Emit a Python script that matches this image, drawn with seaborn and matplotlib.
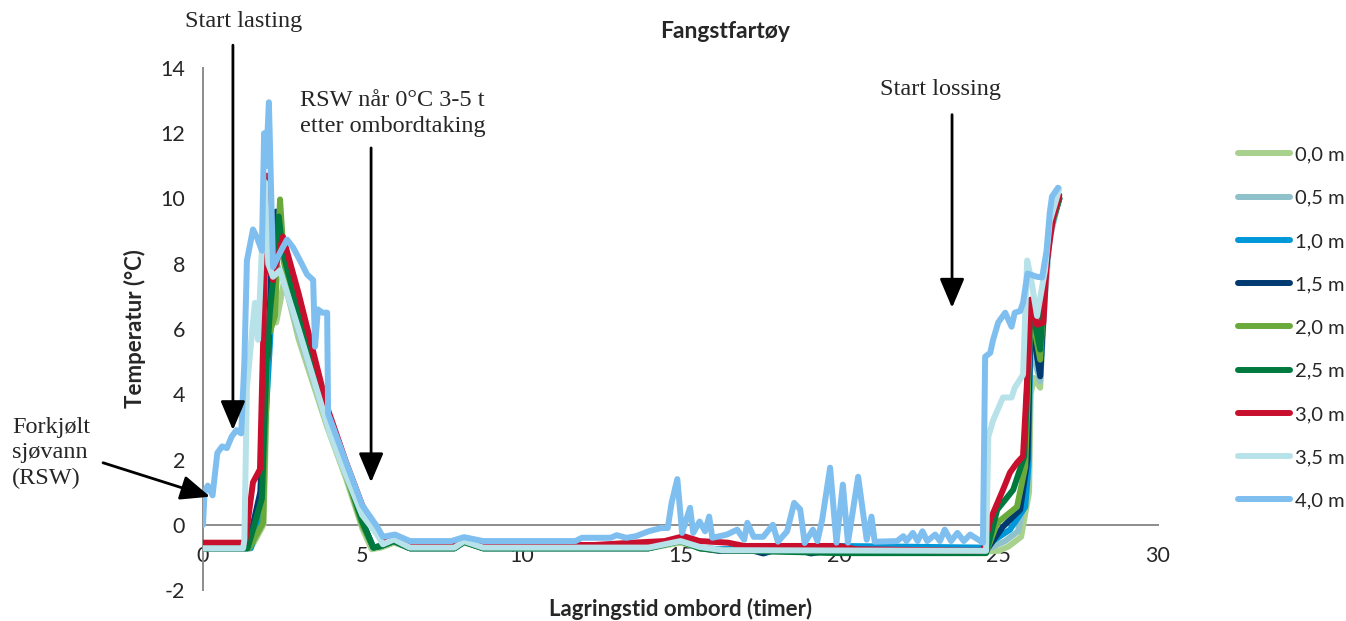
import pandas as pd
import matplotlib
matplotlib.use('Agg')
import matplotlib.pyplot as plt
import seaborn as sns

# --- data (timer, temperatur) ---
dybder = ['0,0 m', '0,5 m', '1,0 m', '1,5 m', '2,0 m', '2,5 m', '3,0 m', '3,5 m', '4,0 m']
farger = ['#A9D18E', '#8FC1CB', '#0098D8', '#003A70', '#6AAA3A', '#00793F', '#C8102E', '#B8E2E9', '#7FBFEF']

t_00 = [0, 1.5, 1.9, 2.05, 2.2, 2.3, 2.42, 2.55, 3.0, 3.9, 4.5, 5.0, 5.3, 5.6, 6.0, 6.5, 7.9, 8.2, 8.8, 14.0, 15.0, 15.6, 16.2, 24.5, 25.0, 25.3, 25.7, 25.95, 26.0, 26.1, 26.3, 26.45, 26.6, 26.9]
y_00 = [-0.72, -0.72, 0.0, 5.5, 6.5, 6.2, 6.8, 7.5, 5.7, 3.0, 1.4, -0.1, -0.75, -0.7, -0.55, -0.72, -0.72, -0.55, -0.72, -0.72, -0.55, -0.7, -0.78, -0.82, -0.8, -0.67, -0.37, 1.0, 4.0, 4.5, 4.2, 7.5, 9.0, 10.0]

t_05 = [0, 1.45, 1.8, 1.95, 2.1, 2.3, 2.5, 3.0, 3.9, 4.5, 5.0, 5.35, 5.6, 6.0, 6.5, 7.9, 8.2, 8.8, 14.0, 15.0, 15.6, 16.2, 24.5, 25.2, 25.6, 25.9, 26.0, 26.3, 26.45, 26.6, 26.9]
y_05 = [-0.72, -0.72, 0.5, 4.0, 6.5, 8.0, 7.6, 5.9, 3.1, 1.5, 0.0, -0.7, -0.65, -0.5, -0.72, -0.72, -0.52, -0.72, -0.72, -0.5, -0.7, -0.78, -0.82, -0.5, -0.2, 1.2, 5.5, 4.4, 7.0, 8.8, 10.0]

t_10 = [0, 1.5, 1.8, 1.95, 2.0, 2.1, 2.25, 2.35, 2.5, 3.0, 3.9, 4.5, 5.0, 5.35, 5.6, 6.0, 6.5, 7.9, 8.2, 8.8, 14.0, 15.0, 15.6, 16.2, 20.0, 24.5, 25.35, 25.83, 25.93, 26.0, 26.3, 26.45, 26.6, 26.9]
y_10 = [-0.72, -0.72, 0.2, 3.0, 3.8, 5.5, 8.5, 9.0, 8.3, 6.2, 3.4, 1.6, 0.1, -0.7, -0.65, -0.5, -0.72, -0.72, -0.52, -0.72, -0.72, -0.45, -0.7, -0.75, -0.65, -0.7, -0.15, 0.55, 1.8, 6.5, 4.6, 7.5, 9.0, 10.0]

t_15 = [0, 1.4, 1.8, 1.95, 2.05, 2.15, 2.3, 2.45, 3.0, 3.9, 4.5, 5.0, 5.35, 5.6, 6.0, 6.5, 7.9, 8.2, 8.8, 14.0, 15.0, 15.6, 16.2, 17.3, 17.6, 17.9, 18.8, 19.1, 19.6, 24.6, 25.13, 25.67, 25.9, 26.0, 26.3, 26.45, 26.6, 26.9]
y_15 = [-0.72, -0.72, 1.0, 4.5, 5.3, 8.0, 9.6, 8.6, 6.3, 3.4, 1.6, 0.1, -0.7, -0.65, -0.5, -0.72, -0.72, -0.52, -0.72, -0.72, -0.45, -0.72, -0.8, -0.8, -0.88, -0.8, -0.8, -0.88, -0.8, -0.8, -0.06, 0.46, 2.0, 6.4, 4.55, 7.5, 9.0, 10.0]

t_20 = [0, 1.45, 1.89, 2.04, 2.1, 2.26, 2.42, 2.55, 3.0, 3.9, 4.5, 5.0, 5.35, 5.6, 6.0, 6.5, 7.9, 8.2, 8.8, 14.0, 15.0, 15.6, 16.2, 20.0, 24.6, 24.95, 25.57, 25.83, 26.0, 26.3, 26.45, 26.6, 26.9]
y_20 = [-0.72, -0.72, 0.06, 6.0, 5.9, 6.4, 9.97, 8.0, 6.2, 3.3, 1.5, 0.0, -0.7, -0.65, -0.5, -0.72, -0.72, -0.52, -0.72, -0.72, -0.5, -0.72, -0.78, -0.85, -0.85, 0.06, 0.55, 1.78, 6.6, 5.06, 7.8, 9.0, 10.0]

t_25 = [0, 1.4, 1.85, 2.0, 2.1, 2.2, 2.38, 2.5, 3.0, 3.9, 4.5, 5.0, 5.35, 5.6, 6.0, 6.5, 7.9, 8.2, 8.8, 14.0, 15.0, 15.6, 16.2, 20.0, 24.6, 24.95, 25.45, 25.8, 26.0, 26.3, 26.45, 26.6, 26.9]
y_25 = [-0.72, -0.72, 0.8, 5.0, 6.5, 7.5, 9.45, 8.4, 6.5, 3.4, 1.6, 0.1, -0.7, -0.65, -0.5, -0.72, -0.72, -0.52, -0.72, -0.72, -0.5, -0.72, -0.78, -0.87, -0.87, 0.46, 1.07, 2.1, 6.8, 5.37, 7.8, 9.1, 10.0]

t_30 = [0, 1.32, 1.57, 1.79, 1.95, 2.0, 2.1, 2.2, 2.3, 2.51, 3.0, 3.9, 4.5, 5.0, 5.47, 5.65, 6.0, 6.5, 7.9, 8.2, 8.8, 12.3, 13.5, 14.5, 15.1, 15.6, 16.5, 17.0, 20.0, 20.5, 24.5, 24.73, 25.13, 25.35, 25.57, 25.76, 25.89, 26.0, 26.2, 26.4, 26.5, 26.7, 26.9]
y_30 = [-0.55, -0.55, 1.3, 1.7, 8.0, 10.7, 7.8, 7.5, 8.0, 8.83, 7.1, 3.6, 1.9, 0.6, -0.25, -0.55, -0.45, -0.62, -0.62, -0.45, -0.62, -0.62, -0.55, -0.5, -0.35, -0.5, -0.55, -0.65, -0.65, -0.75, -0.8, 0.15, 1.07, 1.6, 1.9, 2.1, 4.45, 6.9, 6.13, 6.2, 8.0, 9.4, 10.1]

t_35 = [0, 1.26, 1.3, 1.38, 1.54, 1.63, 1.73, 1.85, 1.95, 2.05, 2.2, 2.42, 3.0, 3.99, 4.5, 5.0, 5.47, 5.65, 6.0, 6.5, 7.9, 8.2, 8.8, 14.0, 15.0, 15.6, 16.3, 24.6, 24.67, 24.82, 25.13, 25.4, 25.5, 25.76, 25.89, 26.0, 26.2, 26.45, 26.6, 26.9]
y_35 = [-0.72, -0.72, -0.46, 4.2, 5.9, 6.8, 5.67, 8.5, 10.5, 8.0, 7.6, 7.8, 6.0, 2.8, 1.5, 0.3, -0.3, -0.6, -0.45, -0.7, -0.7, -0.5, -0.7, -0.7, -0.5, -0.68, -0.78, -0.8, 2.7, 3.2, 3.9, 3.9, 4.2, 4.6, 8.1, 7.6, 6.4, 7.8, 9.3, 10.3]

t_40 = [0, 0.05, 0.15, 0.3, 0.45, 0.6, 0.75, 0.9, 1.05, 1.2, 1.3, 1.38, 1.57, 1.7, 1.85, 1.92, 1.98, 2.07, 2.2, 2.3, 2.45, 2.64, 2.83, 3.1, 3.27, 3.46, 3.52, 3.61, 3.75, 3.9, 3.93, 4.5, 5.0, 5.47, 5.65, 6.03, 6.5, 7.8, 8.2, 8.8, 11.7, 11.9, 12.8, 13.0, 13.3, 13.6, 14.0, 14.4, 14.6, 14.72, 14.9, 15.05, 15.3, 15.4, 15.6, 15.77, 15.9, 16.0, 16.46, 16.78, 17.0, 17.1, 17.3, 17.6, 17.9, 18.06, 18.35, 18.57, 18.76, 18.9, 19.16, 19.3, 19.45, 19.7, 19.9, 20.1, 20.26, 20.58, 20.85, 21.0, 21.1, 21.8, 22.0, 22.1, 22.3, 22.45, 22.6, 22.75, 23.0, 23.15, 23.3, 23.5, 23.7, 23.9, 24.1, 24.5, 24.57, 24.73, 24.82, 24.98, 25.2, 25.4, 25.5, 25.67, 25.76, 25.9, 26.2, 26.36, 26.5, 26.6, 26.67, 26.86]
y_40 = [0.0, 1.0, 1.2, 0.9, 2.2, 2.4, 2.35, 2.7, 2.9, 2.8, 5.0, 8.1, 9.05, 8.8, 8.4, 12.0, 11.0, 12.95, 7.9, 8.1, 8.4, 8.74, 8.5, 8.0, 7.67, 7.5, 5.46, 6.6, 6.5, 6.5, 3.4, 1.9, 0.6, -0.06, -0.37, -0.3, -0.5, -0.5, -0.38, -0.5, -0.5, -0.4, -0.4, -0.32, -0.4, -0.35, -0.2, -0.1, -0.1, 0.67, 1.4, -0.25, 0.52, -0.25, 0.1, -0.2, 0.25, -0.4, -0.3, -0.15, -0.46, 0.06, -0.37, -0.37, 0.0, -0.52, -0.2, 0.67, 0.47, -0.56, -0.15, -0.5, 0.15, 1.75, -0.55, 1.23, -0.55, 1.47, -0.46, 0.25, -0.52, -0.5, -0.35, -0.5, -0.25, -0.5, -0.2, -0.5, -0.3, -0.5, -0.15, -0.5, -0.25, -0.5, -0.3, -0.55, 5.15, 5.27, 5.67, 6.2, 6.5, 6.07, 6.5, 6.55, 6.8, 7.7, 7.6, 7.58, 8.4, 9.57, 10.06, 10.33]

serier = [(t_00, y_00), (t_05, y_05), (t_10, y_10), (t_15, y_15), (t_20, y_20),
          (t_25, y_25), (t_30, y_30), (t_35, y_35), (t_40, y_40)]

rows = []
for dybde, (tt, yy) in zip(dybder, serier):
    for a, b in zip(tt, yy):
        rows.append({'timer': a, 'temp': b, 'dybde': dybde})
df = pd.DataFrame(rows)

sns.set_style('white')
plt.rcParams['font.family'] = ['Lato', 'DejaVu Sans']
plt.rcParams['axes.unicode_minus'] = False

fig = plt.figure(figsize=(13.46, 6.21), dpi=100)
ax = fig.add_axes([203 / 1346, 1 - 590 / 621, 955 / 1346, 522 / 621])

sns.lineplot(data=df, x='timer', y='temp', hue='dybde', hue_order=dybder,
             palette=dict(zip(dybder, farger)), sort=False, estimator=None,
             linewidth=4.3, ax=ax, solid_joinstyle='round', solid_capstyle='round')

ax.set_xlim(0, 30)
ax.set_ylim(-2, 14)
ax.set_xticks(range(0, 31, 5))
ax.set_yticks(range(-2, 15, 2))

for side in ['top', 'right']:
    ax.spines[side].set_visible(False)
ax.spines['bottom'].set_position(('data', 0))
for side in ['left', 'bottom']:
    ax.spines[side].set_color('#8C8C8C')
    ax.spines[side].set_linewidth(1.4)
    ax.spines[side].set_zorder(1)
ax.tick_params(axis='y', direction='out', length=5, width=1.2, color='#8C8C8C', labelsize=15.5, pad=8)
ax.tick_params(axis='x', direction='out', length=4, width=1.2, color='#8C8C8C', labelsize=15.5, pad=11)
ax.grid(False)

ax.set_ylabel('Temperatur (°C)', fontsize=16, fontweight='bold', labelpad=10)
ax.set_xlabel('Lagringstid ombord (timer)', fontsize=16, fontweight='bold')
ax.xaxis.set_label_coords(0.5, -0.015)

fig.text(725 / 1346, 1 - 32 / 621, 'Fangstfartøy', fontsize=16.5, fontweight='bold',
         ha='center', va='center')

# legend at the right
handles, labels = ax.get_legend_handles_labels()
ax.get_legend().remove()
fig.legend(handles, labels, loc='center left', bbox_to_anchor=(0.906, 0.472),
           frameon=False, fontsize=14.5, handlelength=2.6, handletextpad=0.25,
           labelspacing=1.3)

# annotations with arrows
serif = ['Liberation Serif', 'DejaVu Serif']
pil = dict(arrowstyle='-|>,head_length=0.9,head_width=0.38', color='black',
           lw=2, mutation_scale=20, shrinkA=0, shrinkB=0)

ax.text(-0.57, 15.43, 'Start lasting', family=serif, fontsize=17.5, ha='left', va='center', clip_on=False)
ax.annotate('', xy=(0.94, 2.9), xytext=(0.94, 14.7), arrowprops=pil, annotation_clip=False)

ax.text(3.05, 12.6, 'RSW når 0°C 3-5 t\netter ombordtaking', family=serif, fontsize=17.5,
        ha='left', va='center', linespacing=1.3)
ax.annotate('', xy=(5.28, 1.3), xytext=(5.28, 11.55), arrowprops=pil, annotation_clip=False)

ax.text(21.27, 13.34, 'Start lossing', family=serif, fontsize=17.5, ha='left', va='center')
ax.annotate('', xy=(23.53, 6.65), xytext=(23.53, 12.57), arrowprops=pil, annotation_clip=False)

ax.text(-5.99, 2.2, 'Forkjølt\nsjøvann\n(RSW)', family=serif, fontsize=17.5, ha='left',
        va='center', linespacing=1.3, clip_on=False)
ax.annotate('', xy=(0.22, 0.86), xytext=(-3.14, 1.9), arrowprops=pil, annotation_clip=False)

fig.savefig('out.png', dpi=100)
